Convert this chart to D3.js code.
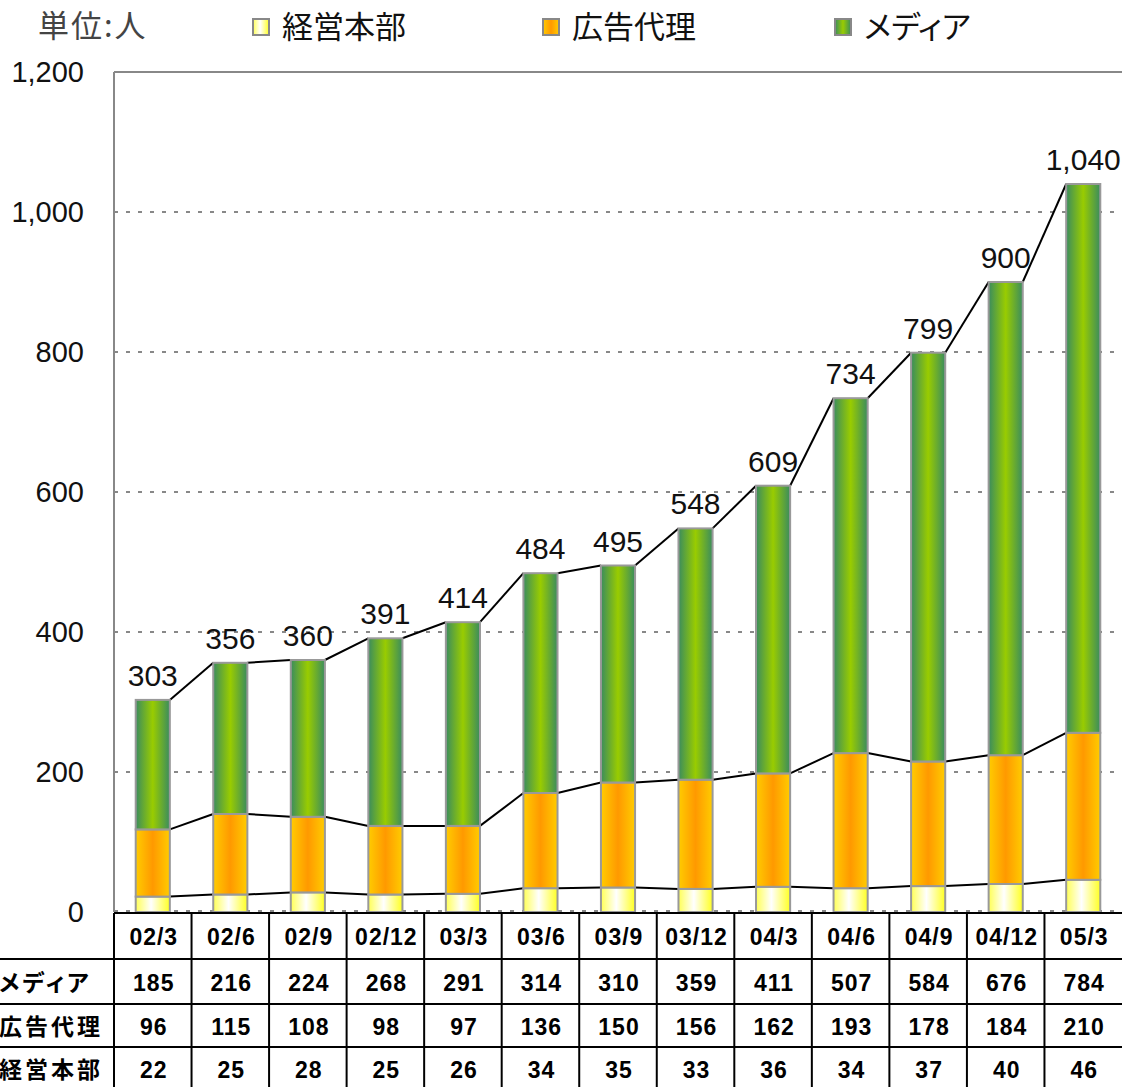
<!DOCTYPE html>
<meta charset="utf-8">
<script src="https://d3js.org/d3.v7.min.js"></script>
<style>
  body { margin: 0; background: #fff; }
  text { font-family: Arial, "Liberation Sans", sans-serif; }
  .jp { font-family: "Noto Sans CJK JP", sans-serif; }
  .kana { font-feature-settings: "palt"; }
</style>
<svg id="chart" width="1122" height="1087"></svg>
<script>
    // data
    var periods = ["02/3", "02/6", "02/9", "02/12", "03/3", "03/6", "03/9", "03/12", "04/3", "04/6", "04/9", "04/12", "05/3"];
    var honbu  = [22, 25, 28, 25, 26, 34, 35, 33, 36, 34, 37, 40, 46];
    var dairi  = [96, 115, 108, 98, 97, 136, 150, 156, 162, 193, 178, 184, 210];
    var media  = [185, 216, 224, 268, 291, 314, 310, 359, 411, 507, 584, 676, 784];
    var totals = [303, 356, 360, 391, 414, 484, 495, 548, 609, 734, 799, 900, 1040];
    var seriesNames = ["経営本部", "広告代理", "メディア"];
    var yTicks = [0, 200, 400, 600, 800, 1000, 1200];

    var svg = d3.select("#chart"),
        width = +svg.attr("width"),
        height = +svg.attr("height");

    // plot area (note: "top" would clash with window.top)
    var plotL = 114, plotR = 1122, plotT = 72, plotB = 912;

    var x = d3.scaleBand().domain(periods).range([plotL, plotR]).paddingInner(0).paddingOuter(0);
    var y = d3.scaleLinear().domain([0, 1200]).range([plotB, plotT]);
    var barW = x.bandwidth() * 0.44;

    // gradients
    var defs = svg.append("defs");
    function grad(id, stops) {
        var g = defs.append("linearGradient").attr("id", id)
            .attr("x1", "0%").attr("x2", "100%").attr("y1", "0%").attr("y2", "0%");
        stops.forEach(function(s){ g.append("stop").attr("offset", s[0]).attr("stop-color", s[1]); });
    }
    grad("gYellow", [["0%", "#ffff55"], ["45%", "#ffffff"], ["100%", "#ffff22"]]);
    grad("gOrange", [["0%", "#ffcc00"], ["50%", "#ff9900"], ["100%", "#ffcc00"]]);
    grad("gGreen",  [["0%", "#3a8c5e"], ["50%", "#99cc00"], ["100%", "#3a8c5e"]]);
    var fills = ["url(#gYellow)", "url(#gOrange)", "url(#gGreen)"];

    // gridlines
    svg.append("g").selectAll("line")
        .data(yTicks.filter(function(d){ return d > 0; }))
        .enter().append("line")
          .attr("x1", plotL).attr("x2", plotR)
          .attr("y1", function(d){ return y(d); })
          .attr("y2", function(d){ return y(d); })
          .attr("stroke", "#888")
          .attr("stroke-width", 2)
          .attr("stroke-dasharray", function(d){ return d === 1200 ? null : "4,8"; });
    svg.append("line")
        .attr("x1", plotL).attr("x2", plotR).attr("y1", plotB - 1).attr("y2", plotB - 1)
        .attr("stroke", "#888").attr("stroke-width", 2).attr("stroke-dasharray", "4,8");

    // y axis
    svg.append("line")
        .attr("x1", plotL).attr("x2", plotL).attr("y1", plotT).attr("y2", plotB)
        .attr("stroke", "#888").attr("stroke-width", 2);
    svg.append("g").selectAll("text")
        .data(yTicks)
        .enter().append("text")
          .attr("x", 84)
          .attr("y", function(d){ return y(d) + 10; })
          .attr("text-anchor", "end")
          .attr("font-size", 29)
          .attr("fill", "#111")
          .text(function(d){ return d3.format(",")(d); });

    // stacked bars
    var stack = periods.map(function(p, i){
        return { p: p, v: [honbu[i], dairi[i], media[i]] };
    });
    stack.forEach(function(d){
        var acc = 0;
        d.segs = d.v.map(function(v, k){
            var s = { k: k, y0: acc, y1: acc + v, p: d.p };
            acc += v;
            return s;
        });
    });

    // connecting lines between bars
    [0, 1, 2].forEach(function(k){
        for (var i = 0; i < stack.length - 1; i++) {
            svg.append("line")
                .attr("x1", x(stack[i].p) + x.bandwidth() / 2 + barW / 2)
                .attr("x2", x(stack[i + 1].p) + x.bandwidth() / 2 - barW / 2)
                .attr("y1", y(stack[i].segs[k].y1))
                .attr("y2", y(stack[i + 1].segs[k].y1))
                .attr("stroke", "#000")
                .attr("stroke-width", 2);
        }
    });

    var bars = svg.append("g").selectAll("g")
        .data(stack)
        .enter().append("g");
    bars.selectAll("rect")
        .data(function(d){ return d.segs; })
        .enter().append("rect")
          .attr("x", function(s){ return x(s.p) + x.bandwidth() / 2 - barW / 2; })
          .attr("width", barW)
          .attr("y", function(s){ return y(s.y1); })
          .attr("height", function(s){ return y(s.y0) - y(s.y1); })
          .attr("fill", function(s){ return fills[s.k]; })
          .attr("stroke", "#999")
          .attr("stroke-width", 2);

    // total labels
    svg.append("g").selectAll("text")
        .data(periods)
        .enter().append("text")
          .attr("x", function(p){ return x(p) + x.bandwidth() / 2; })
          .attr("y", function(p, i){ return y(totals[i]) - 14; })
          .attr("text-anchor", "middle")
          .attr("font-size", 30)
          .attr("fill", "#111")
          .text(function(p, i){ return d3.format(",")(totals[i]); });

    // legend
    svg.append("text").attr("class", "jp")
        .attr("x", 38).attr("y", 37)
        .attr("font-size", 31).attr("fill", "#444")
        .attr("letter-spacing", 2)
        .text("単位:人");
    var legendX = [253, 543, 835];
    seriesNames.forEach(function(n, k){
        svg.append("rect")
            .attr("x", legendX[k]).attr("y", 19).attr("width", 16).attr("height", 16)
            .attr("fill", fills[k]).attr("stroke", "#888").attr("stroke-width", 2);
        svg.append("text").attr("class", k === 2 ? "jp kana" : "jp")
            .attr("x", legendX[k] + 29).attr("y", 38)
            .attr("font-size", 31).attr("fill", "#111")
            .text(n);
    });

    // data table
    var rowLines = [913, 959, 1004, 1047, 1090];
    var table = svg.append("g");
    table.append("line").attr("x1", plotL).attr("x2", plotR)
        .attr("y1", rowLines[0]).attr("y2", rowLines[0])
        .attr("stroke", "#000").attr("stroke-width", 2);
    rowLines.slice(1, 4).forEach(function(ry){
        table.append("line").attr("x1", 0).attr("x2", plotR)
            .attr("y1", ry).attr("y2", ry)
            .attr("stroke", "#000").attr("stroke-width", 2);
    });
    periods.forEach(function(p){
        table.append("line")
            .attr("x1", x(p)).attr("x2", x(p))
            .attr("y1", rowLines[0]).attr("y2", height)
            .attr("stroke", "#000").attr("stroke-width", 2);
    });

    var rows = [
        { name: null, vals: periods },
        { name: "メディア", vals: media },
        { name: "広告代理", vals: dairi },
        { name: "経営本部", vals: honbu }
    ];
    rows.forEach(function(r, ri){
        var cy = (rowLines[ri] + rowLines[ri + 1]) / 2;
        if (r.name) {
            table.append("text").attr("class", ri === 1 ? "jp kana" : "jp")
                .attr("x", -1).attr("y", cy + 9)
                .attr("font-size", 23).attr("font-weight", "bold")
                .attr("letter-spacing", 3)
                .attr("fill", "#000")
                .text(r.name);
        }
        periods.forEach(function(p, i){
            table.append("text")
                .attr("x", x(p) + x.bandwidth() / 2 + 1)
                .attr("y", cy + 9)
                .attr("text-anchor", "middle")
                .attr("font-size", 23).attr("font-weight", "bold")
                .attr("letter-spacing", 1)
                .attr("fill", "#000")
                .text(r.vals[i]);
        });
    });
</script>
